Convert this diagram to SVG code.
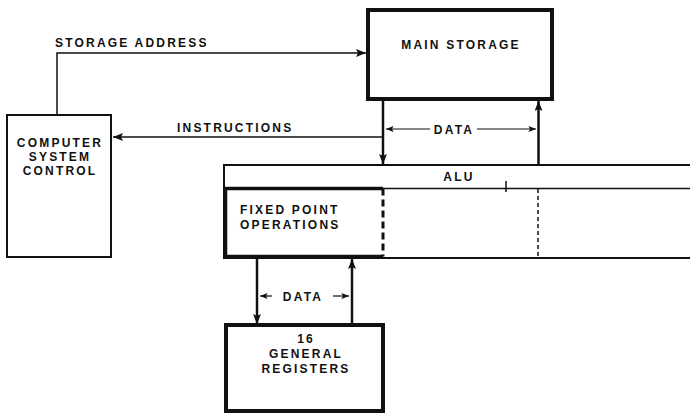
<svg xmlns="http://www.w3.org/2000/svg" width="690" height="414" viewBox="0 0 690 414">
<defs>
<marker id="ah" viewBox="0 0 10 8" refX="10" refY="4" markerWidth="10" markerHeight="8" markerUnits="userSpaceOnUse" orient="auto">
<path d="M0,0 L10,4 L0,8 L2,4 Z" fill="#111"/>
</marker>
<marker id="ahs" viewBox="0 0 10 8" refX="10" refY="4" markerWidth="9" markerHeight="6" markerUnits="userSpaceOnUse" orient="auto">
<path d="M0,0 L10,4 L0,8 L2,4 Z" fill="#111"/>
</marker>
</defs>
<style>
text{font-family:"Liberation Sans",Arial,sans-serif;font-weight:bold;font-size:12px;fill:#111;letter-spacing:2.2px}
.thin{fill:#fff;stroke:#111;stroke-width:2}
.thick{fill:#fff;stroke:#111;stroke-width:4}
.ln{fill:none;stroke:#111;stroke-width:1.5}
.lnb{fill:none;stroke:#111;stroke-width:2.5}
.lbl{fill:none;stroke:#111;stroke-width:1.2}
</style>
<rect width="690" height="414" fill="#fff"/>

<g id="alu">
<path class="ln" d="M690,165 L224,165 L224,258 L690,258" style="stroke-width:2"/>
<line class="ln" x1="383" y1="188.5" x2="690" y2="188.5"/>
<line class="ln" x1="506" y1="181" x2="506" y2="192"/>
<line class="ln" x1="538" y1="189" x2="538" y2="257" stroke-dasharray="4,3"/>
<text x="459" y="181" text-anchor="middle">ALU</text>
</g>

<g id="fixed-point">
<path fill="#fff" stroke="#111" stroke-width="3.5" d="M383,188.5 L225.5,188.5 L225.5,256.5 L383,256.5"/>
<line x1="383" y1="188.5" x2="383" y2="256.5" stroke="#111" stroke-width="3" stroke-dasharray="7,4"/>
<text x="240" y="214">FIXED POINT</text>
<text x="240" y="229">OPERATIONS</text>
</g>

<g id="main-storage">
<rect class="thick" x="368" y="10" width="184" height="89"/>
<text x="461" y="49" text-anchor="middle">MAIN STORAGE</text>
</g>

<g id="computer-system-control">
<rect class="thin" x="7" y="115" width="104" height="142"/>
<text x="60" y="147" text-anchor="middle">COMPUTER</text>
<text x="60" y="161" text-anchor="middle">SYSTEM</text>
<text x="60" y="175" text-anchor="middle">CONTROL</text>
</g>

<g id="general-registers">
<rect class="thick" x="226" y="325" width="157" height="86"/>
<text x="306" y="343" text-anchor="middle">16</text>
<text x="306" y="358" text-anchor="middle">GENERAL</text>
<text x="306" y="373" text-anchor="middle">REGISTERS</text>
</g>

<g id="connectors">
<polyline class="ln" points="57,115 57,53 366,53" marker-end="url(#ah)"/>
<text x="55" y="47">STORAGE ADDRESS</text>
<line class="ln" x1="383" y1="137" x2="113" y2="137" marker-end="url(#ah)"/>
<text x="177" y="132">INSTRUCTIONS</text>
<line class="lnb" x1="383" y1="101" x2="383" y2="164" marker-end="url(#ah)"/>
<line class="lnb" x1="538.5" y1="164" x2="538.5" y2="101" marker-end="url(#ah)"/>
<line class="lbl" x1="430" y1="129" x2="386" y2="129" marker-end="url(#ahs)"/>
<line class="lbl" x1="477" y1="129" x2="536" y2="129" marker-end="url(#ahs)"/>
<text x="454" y="133.5" text-anchor="middle">DATA</text>
<line class="lnb" x1="257" y1="258" x2="257" y2="324" marker-end="url(#ah)"/>
<line class="lbl" x1="272" y1="296" x2="260" y2="296" marker-end="url(#ahs)"/>
<line class="lnb" x1="352" y1="324" x2="352" y2="259" marker-end="url(#ah)"/>
<line class="lbl" x1="333" y1="296" x2="349" y2="296" marker-end="url(#ahs)"/>
<text x="303" y="300.5" text-anchor="middle">DATA</text>
</g>
</svg>
